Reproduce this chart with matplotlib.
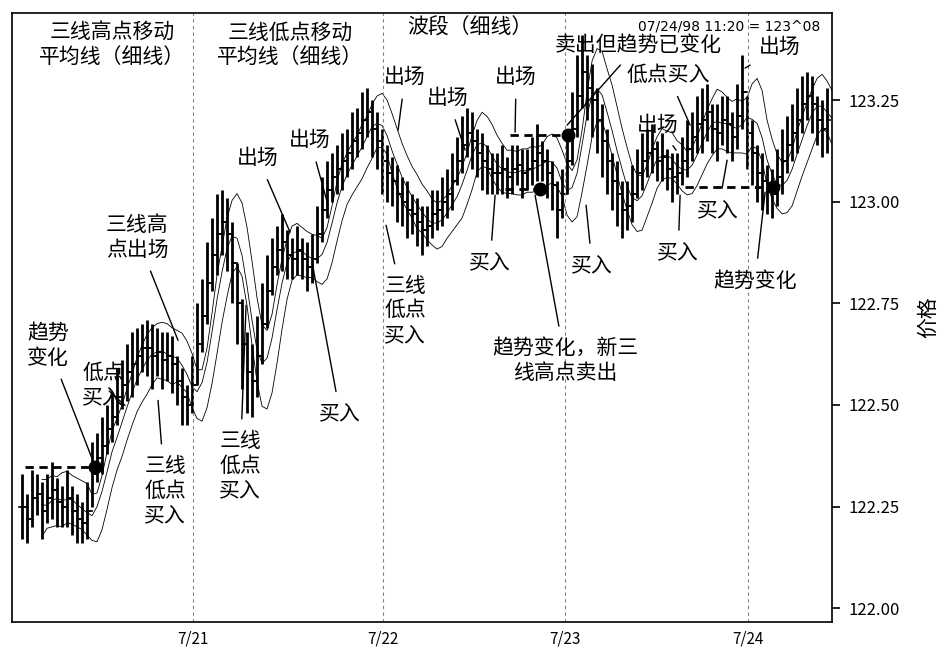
import matplotlib
matplotlib.use("Agg")
import matplotlib.pyplot as plt
import numpy as np

plt.rcParams['font.family'] = ['Noto Sans CJK SC', 'DejaVu Sans']

start_index = 2
mids = [122.25,122.22,122.27,122.28,122.24,122.27,122.29,122.26,122.25,122.27,122.24,122.22,122.21,122.24,
        122.33,122.37,122.40,122.44,122.47,122.52,122.55,122.58,122.60,122.62,122.64,
        122.64,122.62,122.63,122.61,122.62,122.60,122.56,122.52,122.50,
        122.55,122.65,122.72,122.80,122.87,122.92,122.95,122.92,122.85,
        122.75,122.65,122.58,122.56,122.62,
        122.70,122.78,122.84,122.88,122.90,122.87,122.86,122.88,122.86,122.84,
        122.86,122.92,122.98,123.03,123.06,123.08,123.10,123.12,123.15,123.17,123.20,123.22,123.18,
        123.15,123.10,123.07,123.05,123.02,123.00,122.98,122.97,122.95,122.93,122.94,122.97,
        122.98,123.00,123.02,123.05,123.10,123.14,123.17,123.15,123.12,123.10,123.08,123.07,
        123.07,123.08,123.06,123.08,123.09,123.07,123.08,123.10,123.12,123.10,123.07,123.04,122.98,123.02,
        123.10,123.18,123.26,123.32,123.28,123.25,123.20,123.15,123.10,
        123.05,123.02,122.98,122.99,123.02,123.07,123.10,123.12,
        123.13,123.10,123.11,123.08,123.06,123.07,123.10,
        123.13,123.16,123.19,123.20,123.22,123.18,123.17,123.20,123.19,123.16,123.21,123.27,
        123.17,123.12,123.07,123.05,123.03,123.02,123.06,123.10,123.14,
        123.17,123.20,123.24,123.26,123.24,123.20,123.18,123.20]
ranges = [0.16,0.12,0.14,0.10,0.14,0.12,0.14,0.12,0.10,0.14,0.12,0.12,0.10,0.14,
          0.16,0.12,0.14,0.12,0.12,0.14,0.12,0.14,0.16,0.14,0.12,
          0.14,0.16,0.12,0.14,0.12,0.14,0.12,0.14,0.10,
          0.14,0.20,0.18,0.20,0.18,0.20,0.16,0.18,0.20,
          0.20,0.22,0.20,0.18,0.20,
          0.20,0.18,0.14,0.12,0.14,0.12,0.10,0.12,0.10,0.12,
          0.12,0.14,0.16,0.14,0.12,0.12,0.14,0.12,0.14,0.12,0.14,0.12,0.14,
          0.14,0.16,0.14,0.12,0.14,0.12,0.14,0.10,0.12,0.12,0.10,0.12,
          0.10,0.12,0.12,0.14,0.12,0.14,0.12,0.14,0.12,0.14,0.12,0.10,
          0.10,0.12,0.10,0.12,0.10,0.12,0.10,0.12,0.14,0.10,0.12,0.12,0.14,0.12,
          0.16,0.18,0.20,0.18,0.16,0.18,0.16,0.18,0.16,
          0.14,0.16,0.14,0.12,0.14,0.12,0.14,0.12,
          0.12,0.10,0.12,0.10,0.12,0.10,0.12,
          0.14,0.12,0.14,0.16,0.14,0.12,0.14,0.12,0.14,0.12,0.16,0.18,
          0.18,0.16,0.14,0.14,0.12,0.12,0.14,0.16,0.14,
          0.14,0.16,0.14,0.12,0.14,0.12,0.14,0.16]
day_labels = ['7/21', '7/22', '7/23', '7/24']
day_index = [36.2, 74.2, 110.6, 147.2]
yticks = [122.00, 122.25, 122.50, 122.75, 123.00, 123.25]

mids = np.array(mids); ranges = np.array(ranges)
idx = np.arange(len(mids)) + start_index
highs = mids + ranges / 2
lows = mids - ranges / 2

fig = plt.figure(figsize=(9.47, 6.55), dpi=100)
ax = fig.add_axes([0.0127, 0.0504, 0.866, 0.9296])
ax.set_xlim(0, 164)
ax.set_ylim(121.966, 123.464)

def P(px, py):
    return ((px - 12) / 5.0, 123.25 - (py - 100) / 406.0)

for k in range(len(mids)):
    x = idx[k]
    ax.plot([x, x], [lows[k], highs[k]], color='black', lw=2.0, solid_capstyle='butt')
    o = mids[k - 1] if k > 0 else mids[k]
    ax.plot([x - 0.6, x], [o, o], color='black', lw=1.2)
    ax.plot([x, x + 0.6], [mids[k], mids[k]], color='black', lw=1.2)

def sma(a, n):
    out = np.full(len(a), np.nan)
    for i in range(n - 1, len(a)):
        out[i] = a[i - n + 1:i + 1].mean()
    return out

shift = 2
ax.plot(idx + shift, sma(highs, 3), color='black', lw=0.6)
ax.plot(idx + shift, sma(lows, 3), color='black', lw=0.6)
ax.plot(idx + 1, sma(mids, 4), color='black', lw=0.6)

for d in day_index:
    ax.axvline(d, color='gray', lw=0.8, ls=(0, (3, 3)))

for (x1, x2, y, dx) in [(25, 95, 466, 95), (505, 540, 189, 540), (510, 568, 135, 568), (685, 773, 187, 773)]:
    a = P(x1, y); b = P(x2, y)
    ax.plot([a[0], b[0]], [a[1], b[1]], color='black', lw=2, ls=(0, (3, 2)))
    d = P(dx, y)
    ax.plot(d[0], d[1], 'o', color='black', ms=9)

fs = 15
notes = [
    ("三线高点移动\n平均线（细线）", (112, 45), None),
    ("三线低点移动\n平均线（细线）", (290, 45), None),
    ("波段（细线）", (470, 28), None),
    ("卖出但趋势已变化", (638, 45), (567, 125)),
    ("出场", (780, 47), (745, 68)),
    ("低点买入", (668, 75), (690, 125)),
    ("出场", (405, 77), (398, 130)),
    ("出场", (448, 98), (465, 150)),
    ("出场", (516, 77), (515, 132)),
    ("出场", (658, 125), (676, 150)),
    ("出场", (258, 158), (290, 232)),
    ("出场", (310, 140), (328, 205)),
    ("三线高\n点出场", (137, 237), (178, 340)),
    ("趋势\n变化", (48, 345), (92, 458)),
    ("低点\n买入", (103, 385), (125, 405)),
    ("三线\n低点\n买入", (165, 490), (158, 400)),
    ("三线\n低点\n买入", (240, 465), (246, 305)),
    ("买入", (340, 413), (312, 262)),
    ("三线\n低点\n买入", (405, 310), (386, 225)),
    ("买入", (490, 262), (495, 195)),
    ("趋势变化，新三\n线高点卖出", (565, 360), (535, 195)),
    ("买入", (592, 265), (586, 205)),
    ("买入", (678, 252), (680, 195)),
    ("买入", (718, 210), (727, 160)),
    ("趋势变化", (755, 280), (765, 192)),
]
for txt, tp, tgt in notes:
    t = P(*tp)
    if tgt is None:
        ax.text(t[0], t[1], txt, fontsize=fs, ha='center', va='center', linespacing=1.15)
    else:
        g = P(*tgt)
        ax.annotate(txt, xy=g, xytext=t, fontsize=fs, ha='center', va='center', linespacing=1.15,
                    arrowprops=dict(arrowstyle='-', color='black', lw=1.0, shrinkA=6, shrinkB=0))

ax.text(0.985, 0.99, "07/24/98 11:20 = 123^08", transform=ax.transAxes, fontsize=10,
        ha='right', va='top', family='DejaVu Sans')

ax.yaxis.tick_right()
ax.set_yticks(yticks)
ax.set_yticklabels([f"{v:.2f}" for v in yticks], fontsize=12)
ax.tick_params(axis='y', direction='out', length=6, width=1.2, pad=6)
ax.set_xticks(day_index)
ax.set_xticklabels(day_labels, fontsize=11)
ax.tick_params(axis='x', length=0, pad=6)
ax.yaxis.set_label_position('right')
ax.set_ylabel("价格", fontsize=15, labelpad=12)
for s in ax.spines.values():
    s.set_linewidth(1.2)

fig.savefig("out.png", dpi=100)
